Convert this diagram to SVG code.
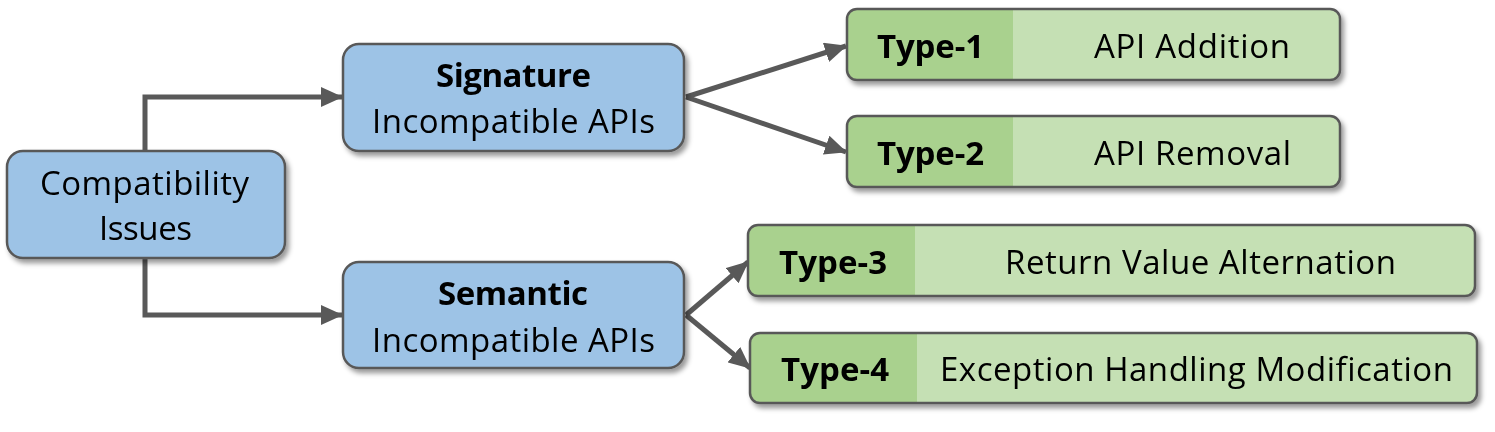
<svg xmlns="http://www.w3.org/2000/svg" width="1495" height="432" viewBox="0 0 1495 432">
<style>
.blue{fill:#9DC3E6;stroke:#595959;stroke-width:2.5}
.lg{fill:#C5E0B4}
.dg{fill:#A9D18E}
.ol{fill:none;stroke:#595959;stroke-width:2.5}
.t{font-family:"Open Sans",Lato,sans-serif;font-size:33px;fill:#000;font-variant-ligatures:none}
.b{font-weight:bold}
.conn{fill:none;stroke:#595959;stroke-width:5}
</style>
<defs>
<filter id="sh" x="-10%" y="-20%" width="130%" height="150%">
<feDropShadow dx="3" dy="4" stdDeviation="2.5" flood-color="#000" flood-opacity="0.4"/>
</filter>
<marker id="ah" markerUnits="userSpaceOnUse" markerWidth="22" markerHeight="20" refX="21" refY="10" orient="auto">
<path d="M0,0 L22,10 L0,20 Z" fill="#595959"/>
</marker>
</defs>
<g id="connectors">
<path class="conn" d="M145,151 V97 H342" marker-end="url(#ah)"/>
<path class="conn" d="M145,258 V315 H342" marker-end="url(#ah)"/>
<path class="conn" d="M686,97 L846,46" marker-end="url(#ah)"/>
<path class="conn" d="M686,97 L846,152" marker-end="url(#ah)"/>
<path class="conn" d="M686,315 L748,262" marker-end="url(#ah)"/>
<path class="conn" d="M686,315 L750,368" marker-end="url(#ah)"/>
</g>
<g id="compat" filter="url(#sh)">
<rect class="blue" x="7" y="151" width="278" height="107" rx="16"/>
<text class="t" x="40" y="195" textLength="209" lengthAdjust="spacing">Compatibility</text>
<text class="t" x="99" y="240" textLength="93" lengthAdjust="spacing">Issues</text>
</g>
<g id="signature" filter="url(#sh)">
<rect class="blue" x="343" y="44" width="341" height="107" rx="16"/>
<text class="t b" x="436" y="87" textLength="155" lengthAdjust="spacing">Signature</text>
<text class="t" x="372" y="133" textLength="283" lengthAdjust="spacing">Incompatible APIs</text>
</g>
<g id="semantic" filter="url(#sh)">
<rect class="blue" x="343" y="262" width="341" height="106" rx="16"/>
<text class="t b" x="438" y="305" textLength="150" lengthAdjust="spacing">Semantic</text>
<text class="t" x="372" y="352" textLength="283" lengthAdjust="spacing">Incompatible APIs</text>
</g>
<g id="type1" filter="url(#sh)">
<rect class="lg" x="847" y="9" width="493" height="71" rx="10"/>
<path class="dg" d="M1013,9 H857 A10,10 0 0 0 847,19 V70 A10,10 0 0 0 857,80 H1013 Z"/>
<rect class="ol" x="847" y="9" width="493" height="71" rx="10"/>
<text class="t b" x="877" y="58" textLength="107" lengthAdjust="spacing">Type-1</text>
<text class="t" x="1094" y="58" textLength="196" lengthAdjust="spacing">API Addition</text>
</g>
<g id="type2" filter="url(#sh)">
<rect class="lg" x="847" y="116" width="493" height="71" rx="10"/>
<path class="dg" d="M1013,116 H857 A10,10 0 0 0 847,126 V177 A10,10 0 0 0 857,187 H1013 Z"/>
<rect class="ol" x="847" y="116" width="493" height="71" rx="10"/>
<text class="t b" x="877" y="165" textLength="107" lengthAdjust="spacing">Type-2</text>
<text class="t" x="1094" y="165" textLength="197" lengthAdjust="spacing">API Removal</text>
</g>
<g id="type3" filter="url(#sh)">
<rect class="lg" x="748" y="225" width="727" height="71" rx="10"/>
<path class="dg" d="M915,225 H758 A10,10 0 0 0 748,235 V286 A10,10 0 0 0 758,296 H915 Z"/>
<rect class="ol" x="748" y="225" width="727" height="71" rx="10"/>
<text class="t b" x="779" y="274" textLength="108" lengthAdjust="spacing">Type-3</text>
<text class="t" x="1005" y="274" textLength="391" lengthAdjust="spacing">Return Value Alternation</text>
</g>
<g id="type4" filter="url(#sh)">
<rect class="lg" x="750" y="333" width="727" height="70" rx="10"/>
<path class="dg" d="M917,333 H760 A10,10 0 0 0 750,343 V393 A10,10 0 0 0 760,403 H917 Z"/>
<rect class="ol" x="750" y="333" width="727" height="70" rx="10"/>
<text class="t b" x="781" y="381" textLength="108" lengthAdjust="spacing">Type-4</text>
<text class="t" x="940" y="381" textLength="513" lengthAdjust="spacing">Exception Handling Modification</text>
</g>
</svg>
